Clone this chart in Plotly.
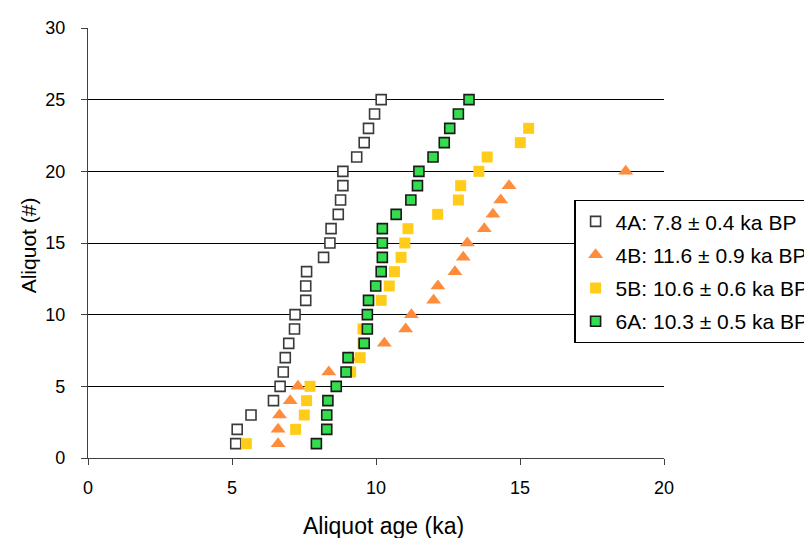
import plotly.graph_objects as go

# ---- data ----
aliq_4A = list(range(1, 26))
age_4A = [5.13, 5.18, 5.66, 6.44, 6.67, 6.78, 6.85, 6.97, 7.17, 7.19,
          7.56, 7.56, 7.59, 8.18, 8.40, 8.44, 8.69, 8.77, 8.85, 8.85,
          9.33, 9.59, 9.74, 9.95, 10.18]

aliq_4B = list(range(1, 21))
age_4B = [6.60, 6.60, 6.65, 7.02, 7.29, 8.36, 9.08, 10.29, 11.03, 11.23,
          12.00, 12.15, 12.74, 13.03, 13.17, 13.76, 14.06, 14.33, 14.62, 18.67]

aliq_5B = list(range(1, 24))
age_5B = [5.50, 7.21, 7.51, 7.59, 7.71, 9.12, 9.45, 9.55, 9.55, 9.70,
          10.18, 10.46, 10.64, 10.87, 11.00, 11.11, 12.14, 12.86, 12.94, 13.57,
          13.86, 15.01, 15.30]

aliq_6A = list(range(1, 26))
age_6A = [7.93, 8.29, 8.29, 8.33, 8.62, 8.96, 9.03, 9.59, 9.70, 9.70,
          9.74, 9.99, 10.18, 10.22, 10.22, 10.22, 10.70, 11.21, 11.44, 11.49,
          11.98, 12.37, 12.56, 12.86, 13.23]

series_names = ["4A: 7.8 \u00b1 0.4 ka BP", "4B: 11.6 \u00b1 0.9 ka BP",
                "5B: 10.6 \u00b1 0.6 ka BP", "6A: 10.3 \u00b1 0.5 ka BP"]

x_ticks = [0, 5, 10, 15, 20]
y_ticks = [0, 5, 10, 15, 20, 25, 30]
y_grid = [5, 10, 15, 20, 25]

FONT = "Liberation Sans, Arial, sans-serif"

fig = go.Figure()
fig.add_trace(go.Scatter(x=age_4A, y=aliq_4A, mode="markers", name=series_names[0],
                         legendgroup="a",
                         marker=dict(symbol="square", size=10, color="white",
                                     line=dict(color="#3a3a3a", width=1.6))))
fig.add_trace(go.Scatter(x=age_4B, y=aliq_4B, mode="markers", name=series_names[1],
                         legendgroup="b",
                         marker=dict(symbol="triangle-up", size=13, color="#FF8C3A",
                                     line=dict(width=0))))
fig.add_trace(go.Scatter(x=age_5B, y=aliq_5B, mode="markers", name=series_names[2],
                         legendgroup="c",
                         marker=dict(symbol="square", size=11, color="#FFCC1A",
                                     line=dict(width=0))))
fig.add_trace(go.Scatter(x=age_6A, y=aliq_6A, mode="markers", name=series_names[3],
                         legendgroup="d",
                         marker=dict(symbol="square", size=10, color="#33DD4D",
                                     line=dict(color="#1a1a1a", width=1.6))))
# empty helper trace so the grid axis exists
fig.add_trace(go.Scatter(x=[], y=[], yaxis="y2", showlegend=False, hoverinfo="skip"))

# the page body has an 8px margin, so figure coordinates are page - 8
OFF = 8
W, H = 812, 538
PL, PR, PT, PB = 87.7 - OFF, 663.7 - OFF, 28.3 - OFF, 457.7 - OFF
L, R, T, B = PL, W - PR, PT, H - PB
PW, PH = PR - PL, PB - PT

def px_x(p):
    return (p - OFF - PL) / PW

def px_y(p):
    return (PB - (p - OFF)) / PH

fig.update_layout(
    width=W, height=H,
    margin=dict(l=L, r=R, t=T, b=B, pad=0, autoexpand=False),
    paper_bgcolor="white", plot_bgcolor="white",
    font=dict(family=FONT, size=18, color="black"),
    xaxis=dict(range=[0, 20], tickvals=x_ticks, showgrid=False, zeroline=False,
               showline=True, linecolor="#404040", linewidth=1.3,
               ticks="outside", ticklen=6, tickcolor="#404040", tickwidth=1.3,
               tickfont=dict(size=18, family=FONT, color="black"),
               ticklabelstandoff=7),
    yaxis=dict(range=[0, 30], tickvals=y_ticks, showgrid=False, zeroline=False,
               showline=True, linecolor="#404040", linewidth=1.3,
               ticks="outside", ticklen=6, tickcolor="#404040", tickwidth=1.3,
               tickfont=dict(size=18, family=FONT, color="black"),
               ticklabelstandoff=12),
    yaxis2=dict(range=[0, 30], overlaying="y", anchor="x", side="left",
                tickvals=y_grid, showgrid=True, gridcolor="black", gridwidth=1.2,
                showticklabels=False, ticks="", showline=False, zeroline=False),
    legend=dict(xref="paper", yref="paper", x=px_x(574), y=px_y(200),
                xanchor="left", yanchor="top", bgcolor="white",
                bordercolor="black", borderwidth=1.3,
                font=dict(size=21, family=FONT, color="black"),
                tracegroupgap=3, traceorder="grouped"),
    showlegend=True,
    annotations=[
        dict(text="Aliquot age (ka)", xref="paper", yref="paper",
             x=px_x(383), y=px_y(526),
             xanchor="center", yanchor="middle", showarrow=False,
             font=dict(size=23, family=FONT, color="black")),
        dict(text="Aliquot (#)", xref="paper", yref="paper",
             x=px_x(28), y=px_y(245),
             xanchor="center", yanchor="middle", textangle=-90, showarrow=False,
             font=dict(size=21, family=FONT, color="black")),
    ],
)

fig.write_html("out.html")
